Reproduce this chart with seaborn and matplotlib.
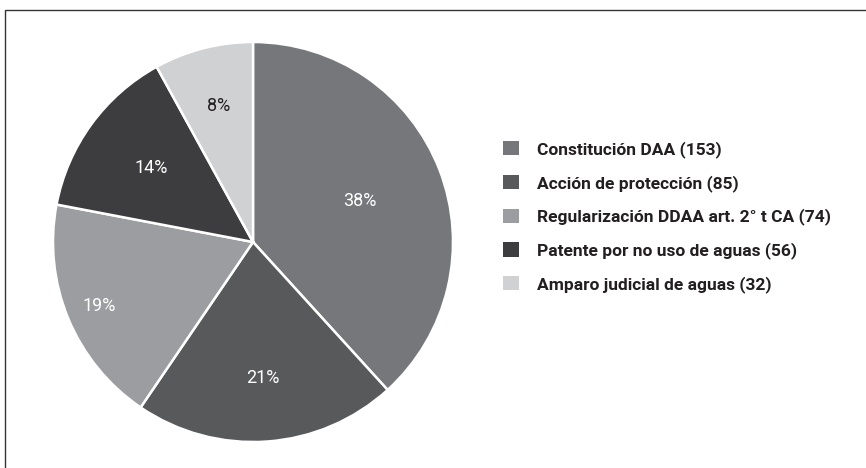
import numpy as np
import matplotlib
matplotlib.use("Agg")
import matplotlib.pyplot as plt
import seaborn as sns
from matplotlib.patches import Rectangle

sns.set_theme(style="white")
plt.rcParams['font.family'] = ['Roboto', 'DejaVu Sans']

# data
categorias = ['Constitución DAA', 'Acción de protección',
              'Regularización DDAA art. 2° t CA', 'Patente por no uso de aguas',
              'Amparo judicial de aguas']
casos = [153, 85, 74, 56, 32]
colores = ['#76777b', '#58595b', '#9c9da0', '#3d3d3f', '#d0d1d3']
color_pct = ['white', 'white', 'white', 'white', '#231f20']
dist_pct = [0.57, 0.68, 0.83, 0.63, 0.70]

fig = plt.figure(figsize=(8.66, 4.68), dpi=100)
W, H = 866, 468

# pie axes: center ~ (253, 242) px, radius ~200 px
ax = fig.add_axes([53 / W, 26 / H, 400 / W, 400 / H])
wedges, _ = ax.pie(casos, colors=colores, startangle=90, counterclock=False,
                   wedgeprops=dict(edgecolor='white', linewidth=1.8))
ax.set_xlim(-1, 1)
ax.set_ylim(-1, 1)
ax.set_aspect('equal')
ax.axis('off')

total = sum(casos)
for w, v, r, c in zip(wedges, casos, dist_pct, color_pct):
    ang = np.deg2rad((w.theta1 + w.theta2) / 2)
    ax.text(r * np.cos(ang), r * np.sin(ang), '{}%'.format(int(v / total * 100 + 0.5)),
            ha='center', va='center', fontsize=13, color=c, fontweight='normal')

leg = fig.legend(wedges, ['{} ({})'.format(k, v) for k, v in zip(categorias, casos)],
                 loc='upper left', bbox_to_anchor=(496 / W, 1 - 134 / H),
                 frameon=False, handlelength=0.9, handleheight=0.9,
                 handletextpad=1.05, labelspacing=0.97, borderaxespad=0,
                 prop=dict(family=['Roboto', 'DejaVu Sans'],
                           weight='bold', size=12.5))
for t in leg.get_texts():
    t.set_color('#231f20')
for h in leg.legend_handles:
    h.set_edgecolor('none')

# outer frame
fig.add_artist(Rectangle((5 / W, -0.1), 2, 1.1 - 10 / H, transform=fig.transFigure,
                         fill=False, linewidth=1, edgecolor='#333333'))

fig.savefig('out.png', dpi=100)
